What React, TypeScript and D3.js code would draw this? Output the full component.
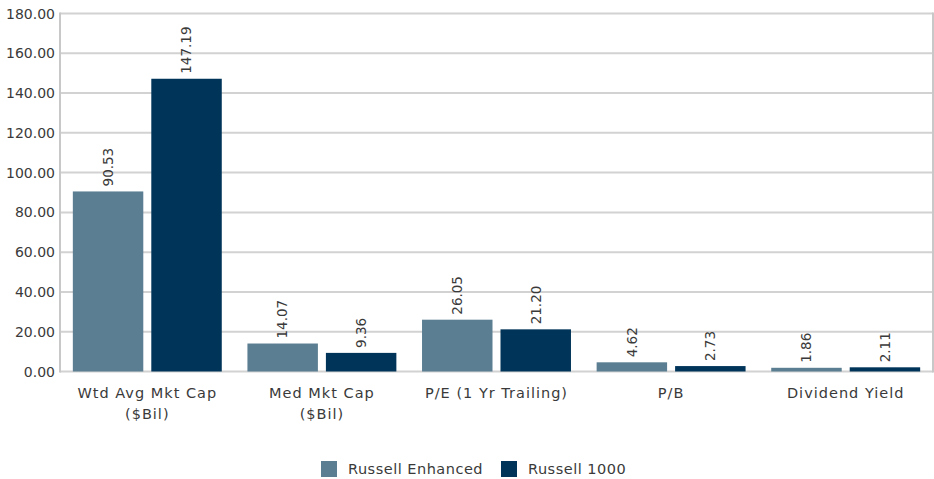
import * as d3 from 'd3';

const categories = [['Wtd Avg Mkt Cap', '($Bil)'], ['Med Mkt Cap', '($Bil)'], ['P/E (1 Yr Trailing)'], ['P/B'], ['Dividend Yield']];
const seriesNames = ['Russell Enhanced', 'Russell 1000'];
const enhanced = [90.53, 14.07, 26.05, 4.62, 1.86];
const russell1000 = [147.19, 9.36, 21.2, 2.73, 2.11];
const yTicks = [0, 20, 40, 60, 80, 100, 120, 140, 160, 180];
const colors = ['#5b7e92', '#003459'];

export default function App() {
  const W = 934;
  const H = 479;
  const left = 60, right = 933, top = 13.5, bottom = 371.5;
  const font = '"DejaVu Sans", Verdana, sans-serif';
  const textColor = '#3a3a3a';

  const keys = categories.map(c => c.join(' '));
  const x0 = d3.scaleBand<string>().domain(keys).range([left, right]).paddingInner(0.147).paddingOuter(0.0735);
  const x1 = d3.scaleBand<string>().domain(seriesNames).range([0, x0.bandwidth()]).paddingInner(0.102);
  const y = d3.scaleLinear().domain([0, 180]).range([bottom, top]);
  const series = [enhanced, russell1000];

  return (
    <svg width={W} height={H} style={{ display: 'block', background: '#fff' }} fontFamily={font}>
      <style>{`body{margin:0}`}</style>
      {yTicks.map(t => (
        <g key={t}>
          <line x1={left} x2={right} y1={y(t)} y2={y(t)} stroke="#d2d2d2" strokeWidth={2} />
          <text x={55} y={y(t)} dy="0.36em" textAnchor="end" fontSize={14} fill={textColor}>
            {t.toFixed(2)}
          </text>
        </g>
      ))}
      <line x1={left} x2={left} y1={top - 1} y2={bottom + 1} stroke="#c8c8c8" strokeWidth={2} />
      <line x1={right} x2={right} y1={top - 1} y2={bottom + 1} stroke="#c8c8c8" strokeWidth={2} />

      {keys.map((k, i) => (
        <g key={k}>
          {series.map((vals, s) => {
            const bx = (x0(k) ?? 0) + (x1(seriesNames[s]) ?? 0);
            const bw = x1.bandwidth();
            const v = vals[i];
            const cx = bx + bw / 2 + 4.8;
            const ty = y(v) - 5;
            return (
              <g key={s}>
                <rect x={bx} y={y(v)} width={bw} height={bottom - y(v)} fill={colors[s]} />
                <text transform={`translate(${cx},${ty}) rotate(-90)`} fontSize={13.5} fill={textColor}>
                  {v.toFixed(2)}
                </text>
              </g>
            );
          })}
          {categories[i].map((line, j) => (
            <text
              key={j}
              x={(x0(k) ?? 0) + x0.bandwidth() / 2}
              y={398 + j * 21}
              textAnchor="middle"
              fontSize={14.5}
              letterSpacing={1}
              fill={textColor}
            >
              {line}
            </text>
          ))}
        </g>
      ))}

      {seriesNames.map((name, s) => {
        const lx = s === 0 ? 321 : 501;
        return (
          <g key={name}>
            <rect x={lx} y={461} width={16} height={16} fill={colors[s]} />
            <text x={lx + 27} y={474} fontSize={14.5} letterSpacing={0.5} fill={textColor}>
              {name}
            </text>
          </g>
        );
      })}
    </svg>
  );
}
